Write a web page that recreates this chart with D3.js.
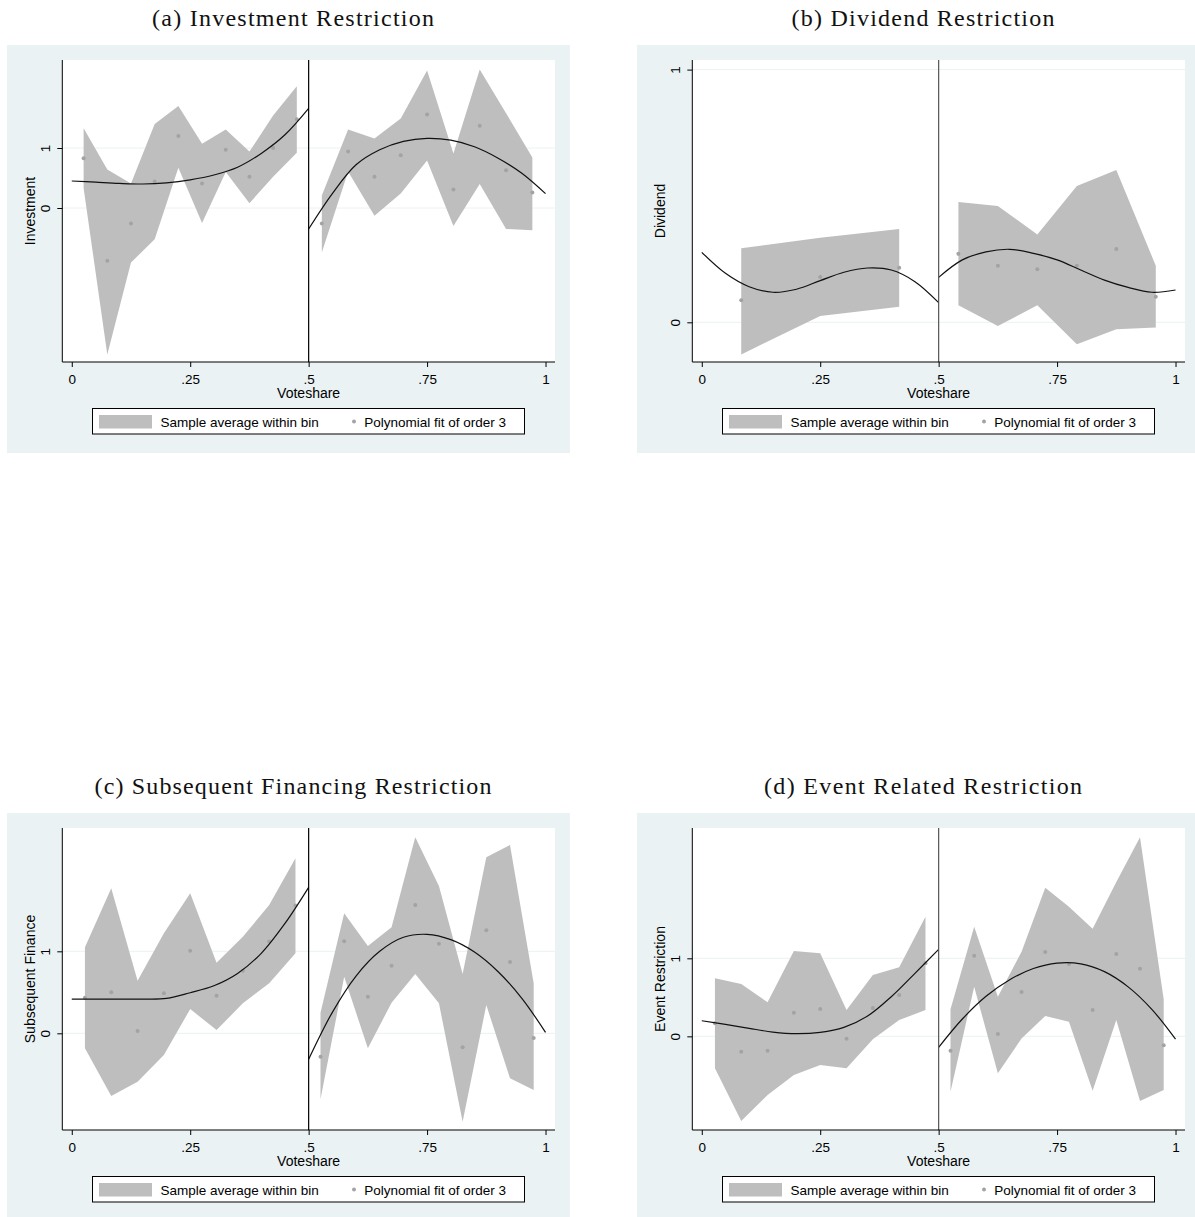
<!DOCTYPE html>
<html>
<head>
<meta charset="utf-8">
<script src="https://cdn.jsdelivr.net/npm/d3@7"></script>
<style>
  body { margin: 0; background: #ffffff; }
  svg { display: block; }
</style>
</head>
<body>
<svg id="chart" width="1195" height="1217"></svg>
<script>
// ---- Shared axis values ----
const xTickValues = [0, 0.25, 0.5, 0.75, 1];
const xTickLabels = ["0", ".25", ".5", ".75", "1"];
const yTickValues = [0, 1];
const yTickLabels = ["0", "1"];
const cutoff = 0.5;
const fitGridLeft = [0, 0.05, 0.1, 0.15, 0.2, 0.25, 0.3, 0.35, 0.4, 0.45, 0.5];
const fitGridRight = [0.5, 0.55, 0.6, 0.65, 0.7, 0.75, 0.8, 0.85, 0.9, 0.95, 1];
const legendLabels = ["Sample average within bin", "Polynomial fit of order 3"];

// ---- (a) Investment restriction ----
const invBinX = [0.025, 0.075, 0.125, 0.175, 0.225, 0.275, 0.325, 0.375, 0.425, 0.475,
                 0.5278, 0.5833, 0.6389, 0.6944, 0.75, 0.8056, 0.8611, 0.9167, 0.9722];
const invMean = [0.83, -0.88, -0.26, 0.44, 1.20, 0.41, 0.97, 0.52, 1.00, 1.48,
                 -0.26, 0.94, 0.52, 0.88, 1.56, 0.31, 1.37, 0.63, 0.26];
const invUpper = [1.33, 0.64, 0.41, 1.40, 1.70, 1.07, 1.31, 0.94, 1.54, 2.03,
                  0.21, 1.31, 1.16, 1.49, 2.29, 0.91, 2.31, 1.58, 0.84];
const invLower = [0.33, -2.44, -0.91, -0.52, 0.67, -0.25, 0.60, 0.08, 0.52, 0.92,
                  -0.74, 0.61, -0.13, 0.24, 0.79, -0.30, 0.40, -0.35, -0.37];
const invFitLeft = [0.45, 0.43, 0.41, 0.40, 0.42, 0.47, 0.55, 0.68, 0.91, 1.22, 1.66];
const invFitRight = [-0.35, 0.24, 0.72, 0.97, 1.11, 1.16, 1.13, 1.02, 0.83, 0.58, 0.24];

// ---- (b) Dividend restriction ----
const divBinX = [0.0833, 0.25, 0.4167, 0.5417, 0.625, 0.7083, 0.7917, 0.875, 0.9583];
const divMean = [0.087, 0.179, 0.216, 0.271, 0.224, 0.210, 0.224, 0.290, 0.101];
const divUpper = [0.293, 0.335, 0.369, 0.476, 0.460, 0.348, 0.539, 0.603, 0.224];
const divLower = [-0.127, 0.025, 0.062, 0.068, -0.015, 0.068, -0.087, -0.027, -0.020];
const divFitLeft = [0.277, 0.194, 0.141, 0.119, 0.131, 0.165, 0.198, 0.215, 0.207, 0.161, 0.078];
const divFitRight = [0.178, 0.247, 0.279, 0.289, 0.273, 0.247, 0.207, 0.167, 0.138, 0.119, 0.128];

// ---- (c) Subsequent financing restriction ----
const subBinX = [0.0278, 0.0833, 0.1389, 0.1944, 0.25, 0.3056, 0.3611, 0.4167, 0.4722,
                 0.525, 0.575, 0.625, 0.675, 0.725, 0.775, 0.825, 0.875, 0.925, 0.975];
const subMean = [0.434, 0.50, 0.028, 0.49, 1.007, 0.459, 0.764, 1.12, 1.56,
                 -0.285, 1.122, 0.447, 0.825, 1.565, 1.093, -0.171, 1.256, 0.87, -0.057];
const subUpper = [1.049, 1.768, 0.641, 1.22, 1.707, 0.861, 1.178, 1.565, 2.134,
                  0.251, 1.463, 1.065, 1.293, 2.39, 1.796, 0.723, 2.146, 2.296, 0.61];
const subLower = [-0.183, -0.765, -0.59, -0.265, 0.296, 0.04, 0.366, 0.61, 0.976,
                  -0.805, 0.69, -0.183, 0.373, 0.723, 0.366, -1.078, 0.345, -0.549, -0.691];
const subFitLeft = [0.418, 0.418, 0.418, 0.418, 0.426, 0.495, 0.58, 0.73, 0.976, 1.34, 1.78];
const subFitRight = [-0.317, 0.256, 0.699, 1.0, 1.171, 1.207, 1.142, 0.991, 0.751, 0.427, 0.012];

// ---- (d) Event related restriction ----
const evtBinX = [0.0278, 0.0833, 0.1389, 0.1944, 0.25, 0.3056, 0.3611, 0.4167, 0.4722,
                 0.525, 0.575, 0.625, 0.675, 0.725, 0.775, 0.825, 0.875, 0.925, 0.975];
const evtMean = [0.167, -0.197, -0.185, 0.303, 0.35, -0.03, 0.363, 0.53, 0.936,
                 -0.185, 1.034, 0.03, 0.568, 1.081, 0.927, 0.337, 1.055, 0.867, -0.115];
const evtUpper = [0.744, 0.67, 0.436, 1.094, 1.064, 0.337, 0.786, 0.885, 1.533,
                  0.346, 1.405, 0.508, 1.085, 1.905, 1.662, 1.38, 1.978, 2.551, 0.474];
const evtLower = [-0.41, -1.086, -0.752, -0.496, -0.368, -0.41, -0.038, 0.209, 0.337,
                  -0.71, 0.636, -0.474, -0.026, 0.26, 0.188, -0.697, 0.209, -0.829, -0.688];
const evtFitLeft = [0.2, 0.154, 0.103, 0.055, 0.034, 0.051, 0.115, 0.26, 0.508, 0.808, 1.115];
const evtFitRight = [-0.141, 0.222, 0.513, 0.726, 0.869, 0.938, 0.929, 0.829, 0.634, 0.346, -0.035];

// ---- Panel definitions (tables built from the arrays above) ----
const panels = [
  { title: "(a) Investment Restriction", titleW: 282, ylabel: "Investment", ox: 0, oy: 0,
    yDomain: [-2.567, 2.467], cutColor: "#000",
    binX: invBinX, mean: invMean, upper: invUpper, lower: invLower,
    fitL: invFitLeft, fitR: invFitRight },
  { title: "(b) Dividend Restriction", titleW: 263, ylabel: "Dividend", ox: 630, oy: 0,
    yDomain: [-0.157, 1.038], cutColor: "#555",
    binX: divBinX, mean: divMean, upper: divUpper, lower: divLower,
    fitL: divFitLeft, fitR: divFitRight },
  { title: "(c) Subsequent Financing Restriction", titleW: 397, ylabel: "Subsequent Finance", ox: 0, oy: 768,
    yDomain: [-1.179, 2.504], cutColor: "#000",
    binX: subBinX, mean: subMean, upper: subUpper, lower: subLower,
    fitL: subFitLeft, fitR: subFitRight },
  { title: "(d) Event Related Restriction", titleW: 318, ylabel: "Event Restriction", ox: 630, oy: 768,
    yDomain: [-1.20, 2.67], cutColor: "#555",
    binX: evtBinX, mean: evtMean, upper: evtUpper, lower: evtLower,
    fitL: evtFitLeft, fitR: evtFitRight }
];

// ---- Style ----
const BG = "#eaf2f3";
const BAND = "#bebebe";
const DOT = "#a3a3a3";
const SANS = "'Liberation Sans', Arial, sans-serif";
const SERIF = "'Liberation Serif', 'DejaVu Serif', serif";

// Frame geometry relative to each panel origin
const frame = { bgX: 7, bgY: 45, bgW: 563, bgH: 408,
                left: 62.3, right: 555, top: 60, bottom: 362 };

const svg = d3.select("#chart");

panels.forEach(p => {
  const g = svg.append("g").attr("transform", `translate(${p.ox},${p.oy})`);

  // title
  g.append("text")
    .attr("x", 293).attr("y", 26)
    .attr("text-anchor", "middle")
    .attr("font-family", SERIF).attr("font-size", 24)
    .attr("textLength", p.titleW).attr("lengthAdjust", "spacing")
    .attr("fill", "#111")
    .text(p.title);

  // graph region background
  g.append("rect")
    .attr("x", frame.bgX).attr("y", frame.bgY)
    .attr("width", frame.bgW).attr("height", frame.bgH)
    .attr("fill", BG);

  // plot region
  g.append("rect")
    .attr("x", frame.left).attr("y", frame.top)
    .attr("width", frame.right - frame.left).attr("height", frame.bottom - frame.top)
    .attr("fill", "#fff");

  const x = d3.scaleLinear().domain([-0.02, 1.02]).range([frame.left, frame.right]);
  const y = d3.scaleLinear().domain(p.yDomain).range([frame.bottom, frame.top]);

  // horizontal grid lines
  g.append("g").selectAll("line").data(yTickValues).join("line")
    .attr("x1", frame.left).attr("x2", frame.right)
    .attr("y1", d => y(d)).attr("y2", d => y(d))
    .attr("stroke", BG).attr("stroke-width", 1);

  // bins as records
  const bins = p.binX.map((bx, i) => ({ x: bx, m: p.mean[i], hi: p.upper[i], lo: p.lower[i] }));
  const sides = [bins.filter(d => d.x < cutoff), bins.filter(d => d.x > cutoff)];

  const area = d3.area()
    .x(d => x(d.x)).y0(d => y(d.lo)).y1(d => y(d.hi))
    .curve(d3.curveLinear);

  g.append("g").selectAll("path").data(sides).join("path")
    .attr("d", area)
    .attr("fill", BAND);

  // bin averages
  g.append("g").selectAll("circle").data(bins).join("circle")
    .attr("cx", d => x(d.x)).attr("cy", d => y(d.m))
    .attr("r", 2)
    .attr("fill", DOT);

  // cubic fit on each side of the cutoff
  const line = d3.line().x(d => x(d[0])).y(d => y(d[1])).curve(d3.curveCatmullRom.alpha(0.5));
  const fits = [
    fitGridLeft.map((fx, i) => [fx, p.fitL[i]]),
    fitGridRight.map((fx, i) => [fx, p.fitR[i]])
  ];
  g.append("g").selectAll("path").data(fits).join("path")
    .attr("d", line)
    .attr("fill", "none")
    .attr("stroke", "#111")
    .attr("stroke-width", 1.2);

  // cutoff line
  g.append("line")
    .attr("x1", x(cutoff)).attr("x2", x(cutoff))
    .attr("y1", frame.top).attr("y2", frame.bottom)
    .attr("stroke", p.cutColor).attr("stroke-width", 1.2);

  // x axis
  const xAxis = d3.axisBottom(x)
    .tickValues(xTickValues)
    .tickFormat((d, i) => xTickLabels[i])
    .tickSize(5).tickSizeOuter(0).tickPadding(7);
  const xa = g.append("g").attr("transform", `translate(0,${frame.bottom})`).call(xAxis);
  xa.select(".domain").attr("stroke", "#000").attr("d", `M${frame.left},0H${frame.right}`);
  xa.selectAll(".tick line").attr("stroke", "#000");
  xa.selectAll(".tick text")
    .attr("font-family", SANS).attr("font-size", 13.5).attr("fill", "#000")
    .attr("dy", "0.72em");

  // y axis
  const yAxis = d3.axisLeft(y)
    .tickValues(yTickValues)
    .tickFormat((d, i) => yTickLabels[i])
    .tickSize(5).tickSizeOuter(0);
  const ya = g.append("g").attr("transform", `translate(${frame.left},0)`).call(yAxis);
  ya.select(".domain").attr("stroke", "#000").attr("d", `M0,${frame.top}V${frame.bottom}`);
  ya.selectAll(".tick line").attr("stroke", "#000");
  ya.selectAll(".tick text")
    .attr("x", null).attr("dy", null)
    .attr("transform", "translate(-12,0) rotate(-90)")
    .attr("text-anchor", "middle")
    .attr("font-family", SANS).attr("font-size", 13.5).attr("fill", "#000");

  // axis titles
  g.append("text")
    .attr("x", (frame.left + frame.right) / 2).attr("y", 398)
    .attr("text-anchor", "middle")
    .attr("font-family", SANS).attr("font-size", 14).attr("fill", "#000")
    .text("Voteshare");

  g.append("text")
    .attr("transform", `translate(35,${(frame.top + frame.bottom) / 2}) rotate(-90)`)
    .attr("text-anchor", "middle")
    .attr("font-family", SANS).attr("font-size", 14).attr("fill", "#000")
    .text(p.ylabel);

  // legend
  const lg = g.append("g");
  lg.append("rect")
    .attr("x", 92.5).attr("y", 408.5).attr("width", 432).attr("height", 25.5)
    .attr("fill", "#fff").attr("stroke", "#000").attr("stroke-width", 1);
  lg.append("rect")
    .attr("x", 99).attr("y", 415).attr("width", 53).attr("height", 13.5)
    .attr("fill", BAND);
  lg.append("text")
    .attr("x", 160.5).attr("y", 426.5)
    .attr("font-family", SANS).attr("font-size", 13.5).attr("fill", "#000")
    .text(legendLabels[0]);
  lg.append("circle")
    .attr("cx", 354).attr("cy", 421.5).attr("r", 2).attr("fill", DOT);
  lg.append("text")
    .attr("x", 364.3).attr("y", 426.5)
    .attr("font-family", SANS).attr("font-size", 13.5).attr("fill", "#000")
    .text(legendLabels[1]);
});
</script>
</body>
</html>
